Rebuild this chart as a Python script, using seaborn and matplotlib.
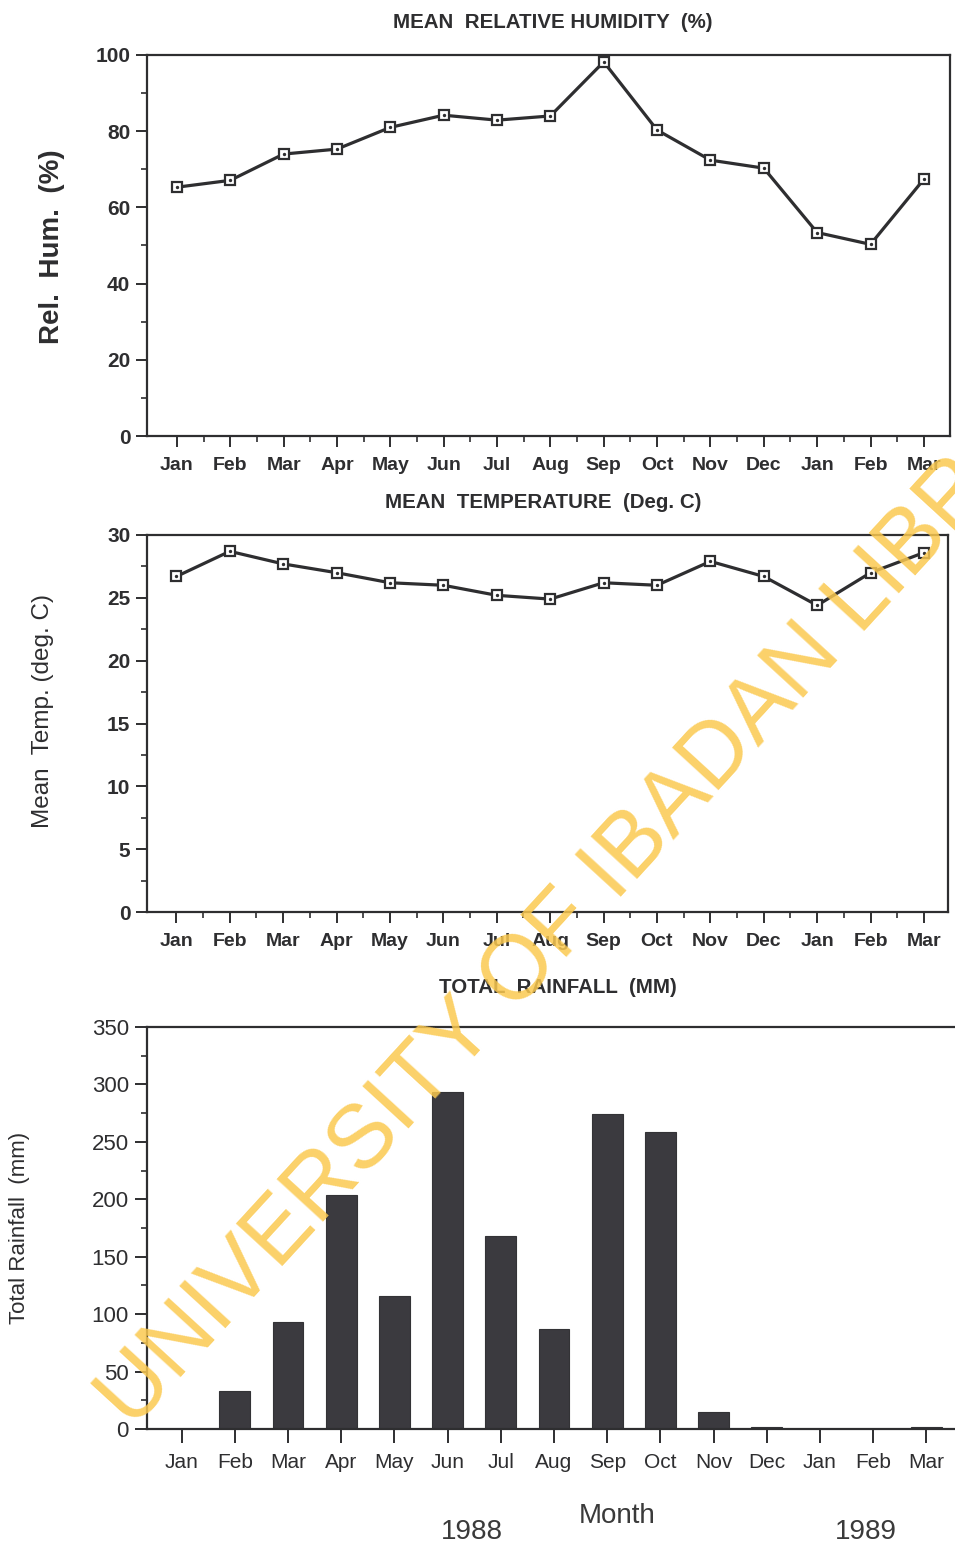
import numpy as np
import pandas as pd
import matplotlib
matplotlib.use("Agg")
import matplotlib.pyplot as plt
import seaborn as sns
from matplotlib import font_manager
from matplotlib.ticker import MultipleLocator, FixedLocator

# ---------------- data ----------------
months = ["Jan", "Feb", "Mar", "Apr", "May", "Jun", "Jul", "Aug",
          "Sep", "Oct", "Nov", "Dec", "Jan", "Feb", "Mar"]
humidity = [65.3, 67.1, 74.0, 75.3, 81.0, 84.2, 82.9, 84.0,
            98.2, 80.3, 72.4, 70.3, 53.4, 50.3, 67.4]
temperature = [26.7, 28.7, 27.7, 27.0, 26.2, 26.0, 25.2, 24.9,
               26.2, 26.0, 27.9, 26.7, 24.4, 27.0, 28.6]
rainfall = [0, 33, 93, 204, 116, 293, 168, 87,
            274, 259, 15, 2, 0, 0, 2]
years = ["1988", "1989"]

df = pd.DataFrame({"idx": np.arange(len(months)), "month": months,
                   "hum": humidity, "temp": temperature, "rain": rainfall})

sns.set_theme(style="white")
names = {f.name for f in font_manager.fontManager.ttflist}
narrow = "Liberation Sans Narrow" if "Liberation Sans Narrow" in names else None
plt.rcParams["font.family"] = ["Liberation Sans", "DejaVu Sans"]

INK = "#2e2e30"
W, H = 955, 1545
fig = plt.figure(figsize=(W / 100, H / 100), dpi=100)
fig.patch.set_facecolor("white")

def fx(px):
    return px / W

def fy(py):
    return 1 - py / H

def style_axes(ax, ylim, ymaj, ymin, xlim, bold=True, minor_x=True, tick_fs=14, ytick_fs=15):
    ax.set_facecolor("white")
    ax.set_xlim(*xlim)
    ax.set_ylim(*ylim)
    for s in ax.spines.values():
        s.set_visible(True)
        s.set_color(INK)
        s.set_linewidth(1.6)
    ax.yaxis.set_major_locator(MultipleLocator(ymaj))
    ax.yaxis.set_minor_locator(MultipleLocator(ymin))
    ax.xaxis.set_major_locator(FixedLocator(np.arange(len(months))))
    ax.set_xticklabels(months)
    if minor_x:
        ax.xaxis.set_minor_locator(FixedLocator(np.arange(len(months) - 1) + 0.5))
    ax.tick_params(axis="both", which="major", direction="out", length=8, width=1.4,
                   color=INK, bottom=True, left=True, top=False, right=False)
    ax.tick_params(axis="both", which="minor", direction="out", length=4, width=1.2,
                   color=INK, bottom=minor_x, left=True, top=False, right=False)
    ax.tick_params(axis="x", which="major", pad=7, labelsize=tick_fs, labelcolor=INK)
    ax.tick_params(axis="y", which="major", pad=4, labelsize=ytick_fs, labelcolor=INK)
    wt = "bold" if bold else "normal"
    for lab in ax.get_xticklabels() + ax.get_yticklabels():
        lab.set_fontweight(wt)
    ax.set_xlabel("")
    ax.set_ylabel("")
    ax.grid(False)

def title(x, y, text, size):
    if narrow:
        fig.text(fx(x), fy(y), text, ha="center", va="center", fontsize=size,
                 fontweight="bold", color=INK, family=[narrow, "Liberation Sans"])
    else:
        fig.text(fx(x), fy(y), text, ha="center", va="center", fontsize=size * 0.82,
                 fontweight="bold", color=INK)

line_kw = dict(color=INK, linewidth=2.3, marker="s", markersize=7,
               markerfacecolor="white", markeredgecolor=INK, markeredgewidth=1.6)

# ---------------- top: humidity ----------------
ax1 = fig.add_axes([fx(147), fy(436), fx(950 - 147), (436 - 55) / H])
sns.lineplot(data=df, x="idx", y="hum", ax=ax1, **line_kw)
ax1.scatter(df["idx"], df["hum"], s=2, color=INK, zorder=5)
style_axes(ax1, (0, 100), 20, 10, (-0.56, 14.49))
title(553, 22, "MEAN  RELATIVE HUMIDITY  (%)", 18)
fig.text(fx(52), fy(247), "Rel.  Hum.  (%)", rotation=90, ha="center", va="center",
         fontsize=20, fontweight="bold", color=INK)

# ---------------- middle: temperature ----------------
ax2 = fig.add_axes([fx(147), fy(912), fx(948 - 147), (912 - 535) / H])
sns.lineplot(data=df, x="idx", y="temp", ax=ax2, **line_kw)
ax2.scatter(df["idx"], df["temp"], s=2, color=INK, zorder=5)
style_axes(ax2, (0, 30), 5, 2.5, (-0.55, 14.45))
title(543, 503, "MEAN  TEMPERATURE  (Deg. C)", 18)
fig.text(fx(43), fy(711), "Mean  Temp. (deg. C)", rotation=90, ha="center", va="center",
         fontsize=17.5, color=INK)

# ---------------- bottom: rainfall ----------------
ax3 = fig.add_axes([fx(147), fy(1429), fx(954 - 147), (1429 - 1027) / H])
sns.barplot(data=df, x="idx", y="rain", ax=ax3, native_scale=True, width=0.58,
            color="#3b3a3f", saturation=1, edgecolor="#333336", linewidth=0.8)
style_axes(ax3, (0, 350), 50, 25, (-0.65, 14.52), bold=False, minor_x=False,
           tick_fs=15, ytick_fs=16)
ax3.tick_params(axis="x", which="major", length=10)
ax3.tick_params(axis="y", which="major", length=9)
ax3.spines["right"].set_visible(False)
title(558, 988, "TOTAL  RAINFALL  (MM)", 18)
fig.text(fx(20), fy(1228), "Total Rainfall  (mm)", rotation=90, ha="center", va="center",
         fontsize=16, color=INK)

fig.text(fx(617), fy(1516), "Month", ha="center", va="center", fontsize=20, color="#3a3a3a")
fig.text(fx(472), fy(1532), years[0], ha="center", va="center", fontsize=20, color="#3a3a3a")
fig.text(fx(866), fy(1532), years[1], ha="center", va="center", fontsize=20, color="#3a3a3a")

# ---------------- watermark ----------------
fig.text(fx(132), fy(1430), "UNIVERSITY OF IBADAN LIBRARY", rotation=47.5,
         rotation_mode="anchor", ha="left", va="baseline", fontsize=65,
         color="#fbc94f", alpha=0.85, zorder=20)

fig.savefig("out.png", dpi=100, facecolor="white")
